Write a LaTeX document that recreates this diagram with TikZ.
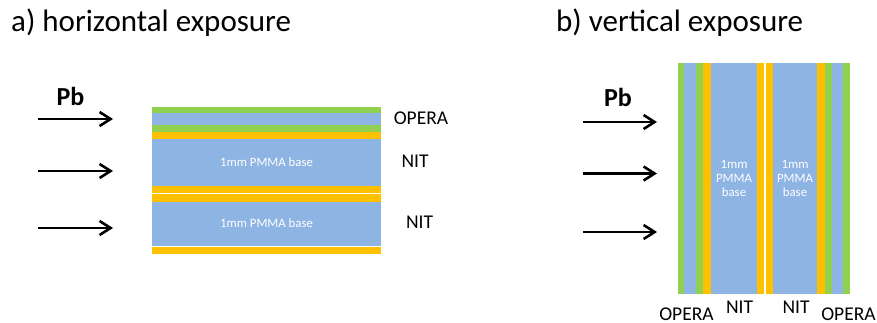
\documentclass[tikz,border=0pt]{standalone}
\usepackage{fontspec}
\setmainfont{Carlito}
\usepackage{tikz}
\usetikzlibrary{arrows.meta,positioning}
\definecolor{operagreen}{HTML}{92D050}
\definecolor{nitorange}{HTML}{FFC000}
\definecolor{pmmablue}{HTML}{8EB4E3}
\tikzstyle{layer} = [rectangle, inner sep=0pt, outer sep=0pt, anchor=north west]
\tikzstyle{emul} = [layer, fill=operagreen]
\tikzstyle{nit} = [layer, fill=nitorange]
\tikzstyle{base} = [layer, fill=pmmablue, text=white, font=\fontsize{12.8}{14}\selectfont, align=center]
\tikzstyle{lbl} = [font=\fontsize{19.5}{22}\selectfont]
\tikzstyle{beam} = [font=\fontsize{26}{30}\selectfont\bfseries]
\tikzstyle{title} = [font=\fontsize{31}{36}\selectfont, anchor=base west, inner sep=0pt]

\begin{document}
\begin{tikzpicture}[x=1pt, y=-1pt, >={Straight Barb[length=11pt,width=14pt]}]
    \useasboundingbox (0,0) rectangle (877,323);
    % titles
    \node[title] (ta) at (11,31.5) {a) horizontal exposure};
    \node[title] (tb) at (556,31.5) {b) vertical exposure};

    % a) horizontal stack
    \node[emul, minimum width=229pt, minimum height=6pt] (hg1) at (152,107) {};
    \node[base, minimum width=229pt, minimum height=12pt] (hb1) at (152,113) {};
    \node[emul, minimum width=229pt, minimum height=7pt] (hg2) at (152,125) {};
    \node[nit, minimum width=229pt, minimum height=7pt] (ho1) at (152,132) {};
    \node[base, minimum width=229pt, minimum height=46.5pt] (hbase1) at (152,139) {1mm PMMA base};
    \node[nit, minimum width=229pt, minimum height=7pt] (ho2) at (152,185.5) {};
    \node[nit, minimum width=229pt, minimum height=8pt] (ho3) at (152,193.5) {};
    \node[base, minimum width=229pt, minimum height=44pt] (hbase2) at (152,201.5) {1mm PMMA base};
    \node[nit, minimum width=229pt, minimum height=7pt] (ho4) at (152,247) {};

    \node[lbl] (hopera) at (421,118) {OPERA};
    \node[lbl] (hnit1) at (415,161) {NIT};
    \node[lbl] (hnit2) at (419.5,222) {NIT};

    \node[beam] (hpb) at (70.5,96) {Pb};
    \foreach \i/\y in {1/119,2/171,3/228} {
        \coordinate (hs\i) at (38,\y);
        \coordinate (he\i) at (113,\y);
        \draw[->, line width=2.6pt] (hs\i) -- (he\i);
    }

    % b) vertical stack
    \node[emul, minimum width=6pt, minimum height=230pt] (vg1) at (678,63.5) {};
    \node[base, minimum width=12pt, minimum height=230pt] (vb1) at (684,63.5) {};
    \node[emul, minimum width=7pt, minimum height=230pt] (vg2) at (696,63.5) {};
    \node[nit, minimum width=8pt, minimum height=230pt] (vo1) at (703,63.5) {};
    \node[base, minimum width=46pt, minimum height=230pt] (vbase1) at (711,63.5) {1mm\\PMMA\\base};
    \node[nit, minimum width=7pt, minimum height=230pt] (vo2) at (757,63.5) {};
    \node[nit, minimum width=7pt, minimum height=230pt] (vo3) at (766,63.5) {};
    \node[base, minimum width=44pt, minimum height=230pt] (vbase2) at (773,63.5) {1mm\\PMMA\\base};
    \node[nit, minimum width=8pt, minimum height=230pt] (vo4) at (817,63.5) {};
    \node[emul, minimum width=7pt, minimum height=230pt] (vg3) at (825,63.5) {};
    \node[base, minimum width=11pt, minimum height=230pt] (vb2) at (832,63.5) {};
    \node[emul, minimum width=7pt, minimum height=230pt] (vg4) at (843,63.5) {};

    \node[lbl, anchor=base, inner sep=0pt, text depth=0pt] (vopera1) at (686.5,320) {OPERA};
    \node[lbl, anchor=base, inner sep=0pt, text depth=0pt] (vnit1) at (739.5,313) {NIT};
    \node[lbl, anchor=base, inner sep=0pt, text depth=0pt] (vnit2) at (796,313) {NIT};
    \node[lbl, anchor=base, inner sep=0pt, text depth=0pt] (vopera2) at (848.5,320) {OPERA};

    \node[beam] (vpb) at (618,97) {Pb};
    \foreach \i/\y in {1/122,2/173.5,3/232} {
        \coordinate (vs\i) at (583,\y);
        \coordinate (ve\i) at (657,\y);
        \draw[->, line width=2.6pt] (vs\i) -- (ve\i);
    }
\end{tikzpicture}
\end{document}
